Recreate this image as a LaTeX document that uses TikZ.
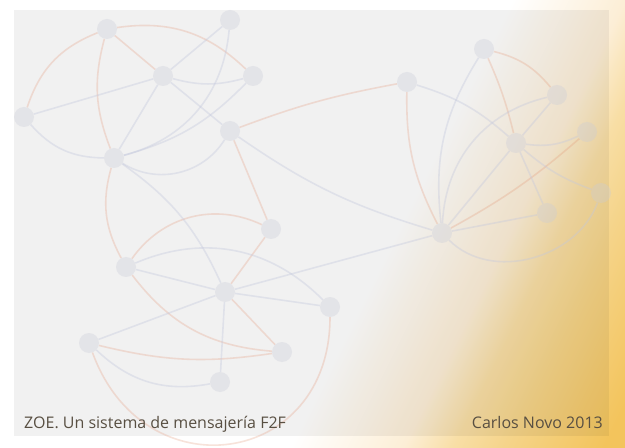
\documentclass[tikz,border=0pt]{standalone}
\usepackage{fontspec}
\setmainfont{Open Sans}
\usepackage{tikz}
\usetikzlibrary{arrows.meta,calc}
\definecolor{ZoeGold}{HTML}{F3C45C}
\definecolor{ZoeHoney}{HTML}{F5D48A}
\definecolor{ZoeSand}{HTML}{F8DEA5}
\definecolor{ZoeCream}{HTML}{FCEED6}
\definecolor{ZoeLink}{HTML}{C4C8DC}
\definecolor{ZoeTrust}{HTML}{E3906E}
\definecolor{ZoePeer}{HTML}{C8CBD8}
\definecolor{ZoeText}{HTML}{584F42}
\pgfdeclarehorizontalshading{zoeGlow}{100bp}{color(0bp)=(white); color(57bp)=(white); color(66bp)=(ZoeCream); color(70bp)=(ZoeSand); color(74bp)=(ZoeHoney); color(82bp)=(ZoeGold); color(100bp)=(ZoeGold)}
\tikzset{
  zoePeer/.style={
    circle, fill=ZoePeer, fill opacity=0.33, draw=none,
    minimum size=20bp, inner sep=0pt
  },
  zoeLink/.style={draw=ZoeLink, draw opacity=0.38, line width=1.6bp},
  zoeTrust/.style={draw=ZoeTrust, draw opacity=0.25, line width=1.6bp},
  zoeCaption/.style={
    text=ZoeText, inner sep=0pt, font=\fontsize{16bp}{19bp}\selectfont
  }
}
\begin{document}
\begin{tikzpicture}[x=1bp, y=1bp]
  \useasboundingbox (0,0) rectangle (625,-448);
  \shade[shading=zoeGlow, shading angle=-26.4] (0,0) rectangle (625,-448);
  \fill[black, opacity=0.055] (14,-10) rectangle (609,-436);

  \node[zoePeer] (pa) at (107,-29) {};
  \node[zoePeer] (pb) at (230,-20) {};
  \node[zoePeer] (pc) at (163,-76) {};
  \node[zoePeer] (pd) at (253,-76) {};
  \node[zoePeer] (pe) at (24,-117) {};
  \node[zoePeer] (pf) at (230,-131) {};
  \node[zoePeer] (pg) at (114,-158) {};
  \node[zoePeer] (ph) at (407,-82) {};
  \node[zoePeer] (pi) at (484,-49) {};
  \node[zoePeer] (pj) at (557,-95) {};
  \node[zoePeer] (pk) at (516,-143) {};
  \node[zoePeer] (pl) at (587,-132) {};
  \node[zoePeer] (pm) at (601,-193) {};
  \node[zoePeer] (pn) at (547,-213) {};
  \node[zoePeer] (po) at (442,-233) {};
  \node[zoePeer] (pp) at (271,-229) {};
  \node[zoePeer] (pq) at (126,-267) {};
  \node[zoePeer] (pr) at (225,-292) {};
  \node[zoePeer] (ps) at (330,-307) {};
  \node[zoePeer] (pt) at (89,-343) {};
  \node[zoePeer] (pu) at (282,-352) {};
  \node[zoePeer] (pv) at (220,-382) {};

  \draw[zoeTrust] (pa) to[bend left=26] (pd);
  \draw[zoeTrust] (pa) to[bend right=25] (pe);
  \draw[zoeTrust] (pa) to[bend right=18] (pg);
  \draw[zoeTrust] (pa) -- (pc);
  \draw[zoeTrust] (pf) to[bend left=5] (ph);
  \draw[zoeTrust] (pf) -- (pp);
  \draw[zoeTrust] (pg) to[bend right=22] (pq);
  \draw[zoeTrust] (pq) to[bend right=24] (pu);
  \draw[zoeTrust] (pq) to[bend left=40] (pp);
  \draw[zoeTrust] (pr) -- (pp);
  \draw[zoeTrust] (pr) -- (pu);
  \draw[zoeTrust] (pt) to[bend right=11] (pu);
  \draw[zoeTrust] (pt) to[out=-70, in=-90, looseness=1.6] (ps);
  \draw[zoeTrust] (ph) to[bend right=14] (po);
  \draw[zoeTrust] (pi) to[bend left=5] (pk);
  \draw[zoeTrust] (pi) to[bend left=18] (pj);
  \draw[zoeTrust] (pl) to[bend left=6] (po);

  \draw[zoeLink] (pb) -- (pc);
  \draw[zoeLink] (pb) to[bend left=35] (pg);
  \draw[zoeLink] (pc) to[bend right=15] (pd);
  \draw[zoeLink] (pc) -- (pe);
  \draw[zoeLink] (pc) -- (pg);
  \draw[zoeLink] (pc) -- (pf);
  \draw[zoeLink] (pd) to[bend left=15] (pg);
  \draw[zoeLink] (pe) to[bend right=24] (pg);
  \draw[zoeLink] (pg) to[bend right=45] (pf);
  \draw[zoeLink] (pf) to[bend right=9] (po);
  \draw[zoeLink] (pg) to[bend left=15] (pr);
  \draw[zoeLink] (pq) to[bend left=34] (ps);
  \draw[zoeLink] (pq) -- (pr);
  \draw[zoeLink] (pr) -- (ps);
  \draw[zoeLink] (pr) -- (po);
  \draw[zoeLink] (pr) -- (pt);
  \draw[zoeLink] (pr) -- (pv);
  \draw[zoeLink] (pt) to[bend right=27] (pv);
  \draw[zoeLink] (ph) to[bend left=12] (pk);
  \draw[zoeLink] (pi) to[bend right=19] (po);
  \draw[zoeLink] (pj) to[bend right=37] (po);
  \draw[zoeLink] (pj) -- (pk);
  \draw[zoeLink] (pk) to[bend right=16] (pl);
  \draw[zoeLink] (pk) to[bend right=10] (pm);
  \draw[zoeLink] (pk) -- (pn);
  \draw[zoeLink] (pk) -- (po);
  \draw[zoeLink] (po) -- (pn);
  \draw[zoeLink] (po) to[out=-45, in=-110, looseness=1.0] (pm);

  \node[zoeCaption, anchor=base west] (title) at (24,-428) {ZOE. Un sistema de mensajería F2F};
  \node[zoeCaption, anchor=base east] (author) at (603,-428) {Carlos Novo 2013};
\end{tikzpicture}
\end{document}
